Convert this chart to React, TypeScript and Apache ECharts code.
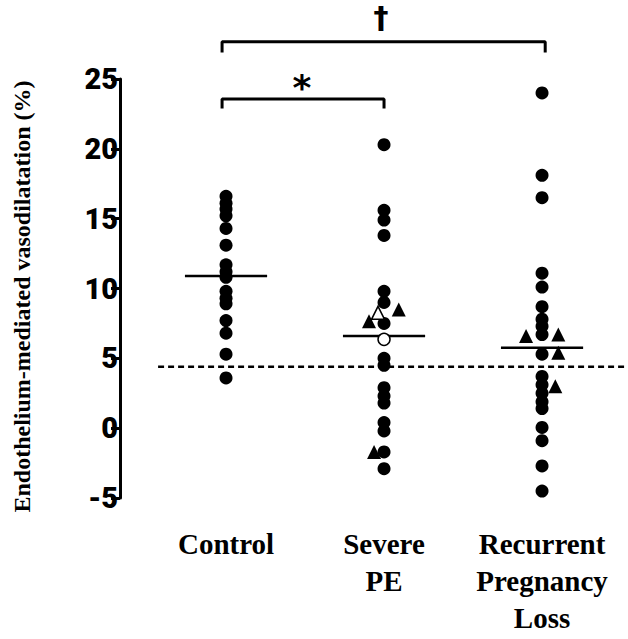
import React, { useEffect, useRef } from "react";
import * as echarts from "echarts";

// ---------- data ----------
const categories = ["Control", "Severe\nPE", "Recurrent\nPregnancy\nLoss"];
const categoryPositions = [1, 2, 3];

const controlValues = [16.6, 16.1, 15.7, 15.2, 14.3, 13.1, 11.7, 11.2, 10.8, 9.8, 9.3, 8.9, 7.7, 6.8, 5.3, 3.6];
const severePEValues = [20.3, 15.6, 14.9, 13.8, 9.8, 9.0, 7.5, 5.0, 4.5, 2.9, 2.3, 1.8, 0.4, -0.2, -1.7, -2.9];
const severePEOpenCircle = [6.36];
const severePETriangles: [number, number][] = [[2.093, 8.5], [1.905, 7.66], [1.937, -1.7]];
const severePEOpenTriangles: [number, number][] = [[1.962, 8.26]];
const rplValues = [24.0, 18.1, 16.5, 11.1, 10.1, 8.7, 7.8, 7.3, 6.7, 5.3, 3.7, 3.1, 2.5, 1.9, 1.4, 0.05, -0.9, -2.7, -4.5];
const rplTriangles: [number, number][] = [[2.899, 6.6], [3.103, 6.7], [3.103, 5.4], [3.084, 3.0]];

const groupMeans = [10.9, 6.6, 5.75];
const thresholdValue = 4.4;

// significance brackets
const brackets: { from: number; to: number; bar: number; tip: number; mark: string; mx: number; my: number }[] = [
  { from: 0.975, to: 3.02, bar: 27.66, tip: 27.0, mark: "†", mx: 1.981, my: 29.4 },
  { from: 0.975, to: 2.0, bar: 23.57, tip: 23.0, mark: "*", mx: 1.481, my: 24.93 },
];

const X_MIN = 0.329;
const X_MAX = 3.544;

export default function App() {
  const ref = useRef<HTMLDivElement>(null);

  useEffect(() => {
    if (!ref.current) return;
    const chart = echarts.init(ref.current, undefined, { renderer: "svg" });

    const black = "#000";
    const dot = { symbol: "circle", symbolSize: 13, itemStyle: { color: black, opacity: 1 } };

    const series: any[] = [];

    series.push({
      type: "line",
      data: [[0.57, thresholdValue], [X_MAX, thresholdValue]],
      symbol: "none",
      lineStyle: { color: black, width: 2.5, type: [6, 4], opacity: 1 },
      z: 2,
      silent: true,
    });

    groupMeans.forEach((m, i) => {
      const p = categoryPositions[i];
      series.push({
        type: "line",
        data: [[p - 0.26, m], [p + 0.26, m]],
        symbol: "none",
        lineStyle: { color: black, width: 2.5, opacity: 1 },
        z: 3,
        silent: true,
      });
    });

    series.push({ type: "scatter", data: controlValues.map((v) => [categoryPositions[0], v]), ...dot, z: 4 });
    series.push({ type: "scatter", data: severePEValues.map((v) => [categoryPositions[1], v]), ...dot, z: 4 });
    series.push({ type: "scatter", data: rplValues.map((v) => [categoryPositions[2], v]), ...dot, z: 4 });

    series.push({
      type: "scatter",
      data: severePEOpenCircle.map((v) => [categoryPositions[1], v]),
      symbol: "circle",
      symbolSize: 12,
      itemStyle: { color: "#fff", borderColor: black, borderWidth: 1.5, opacity: 1 },
      z: 6,
    });
    series.push({
      type: "scatter",
      data: [...severePETriangles, ...rplTriangles],
      symbol: "triangle",
      symbolSize: 14,
      itemStyle: { color: black, opacity: 1 },
      z: 5,
    });
    series.push({
      type: "scatter",
      data: severePEOpenTriangles,
      symbol: "triangle",
      symbolSize: 13,
      itemStyle: { color: "#fff", borderColor: black, borderWidth: 1.5, opacity: 1 },
      z: 6,
    });

    brackets.forEach((b) => {
      series.push({
        type: "line",
        data: [[b.from, b.tip], [b.from, b.bar], [b.to, b.bar], [b.to, b.tip]],
        symbol: "none",
        clip: false,
        lineStyle: { color: black, width: 3, cap: "square", opacity: 1 },
        z: 3,
        silent: true,
      });
      const isStar = b.mark === "*";
      series.push({
        type: "scatter",
        data: [[b.mx, b.my]],
        symbolSize: 1,
        itemStyle: { color: "rgba(0,0,0,0)" },
        clip: false,
        silent: true,
        z: 7,
        label: {
          show: true,
          position: "inside",
          formatter: b.mark,
          color: "#000",
          opacity: 1,
          fontFamily: "DejaVu Sans",
          fontWeight: "bold",
          fontSize: isStar ? 36 : 30,
          lineHeight: isStar ? 36 : 28,
          offset: isStar ? [0, 8] : [0, 0],
        },
      });
    });

    chart.setOption({
      animation: false,
      backgroundColor: "#fff",
      grid: { left: 120, right: 0, top: 79, bottom: 141, containLabel: false, outerBoundsMode: "none" },
      xAxis: {
        type: "value",
        min: X_MIN,
        max: X_MAX,
        axisLine: { show: false },
        axisTick: { show: false },
        splitLine: { show: false },
        axisLabel: {
          customValues: categoryPositions,
          formatter: (v: number) => categories[Math.round(v) - 1] ?? "",
          color: black,
          fontFamily: "Liberation Serif",
          fontWeight: "bold",
          fontSize: 29,
          lineHeight: 37,
          margin: 27,
        },
      },
      yAxis: {
        type: "value",
        min: -5,
        max: 25,
        interval: 5,
        axisLine: { show: true, lineStyle: { color: black, width: 3 } },
        axisTick: { show: true, length: 9, lineStyle: { color: black, width: 3 } },
        splitLine: { show: false },
        axisLabel: {
          color: black,
          fontFamily: "Roboto",
          fontWeight: 900,
          fontSize: 29,
          margin: 2,
        },
        name: "Endothelium-mediated vasodilatation (%)",
        nameLocation: "middle",
        nameRotate: 90,
        nameGap: 86,
        nameTextStyle: {
          color: black,
          fontFamily: "Liberation Serif",
          fontWeight: "bold",
          fontSize: 24,
          padding: [0, 16, 0, 0],
        },
      },
      series,
    });

    return () => chart.dispose();
  }, []);

  return <div ref={ref} style={{ width: 628, height: 639, position: "absolute", left: 0, top: 0 }} />;
}
